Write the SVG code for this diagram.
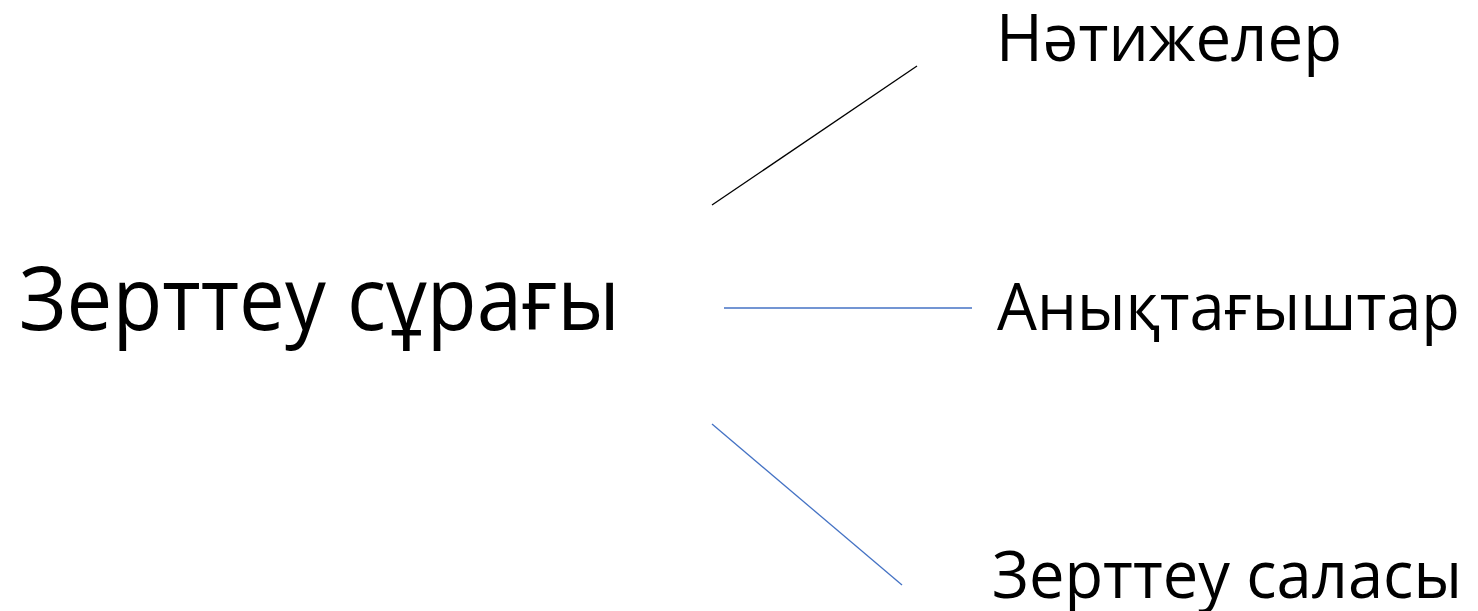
<svg xmlns="http://www.w3.org/2000/svg" width="1478" height="611" viewBox="0 0 1478 611">
<style>
text{font-family:"Open Sans","Noto Sans","DejaVu Sans",sans-serif;fill:#000}
.big{font-size:87px}
.sm{font-size:66px}
.blk{stroke:#000;stroke-width:1.3;fill:none}
.blu{stroke:#4472C4;stroke-width:1.3;fill:none}
</style>
<rect width="1478" height="611" fill="#fff"/>
<g id="connectors">
<line class="blk" x1="712" y1="205" x2="917" y2="66"/>
<line class="blu" x1="724" y1="308" x2="972" y2="308"/>
<line class="blu" x1="712" y1="424" x2="902" y2="585"/>
</g>
<g id="node-question"><text class="big" x="19" y="330" textLength="601" lengthAdjust="spacingAndGlyphs">Зерттеу сұрағы</text></g>
<g id="node-results"><text class="sm" x="996" y="61" textLength="346" lengthAdjust="spacingAndGlyphs">Нәтижелер</text></g>
<g id="node-determinants"><text class="sm" x="997" y="330" textLength="463" lengthAdjust="spacingAndGlyphs">Анықтағыштар</text></g>
<g id="node-field"><text class="sm" x="992" y="598" textLength="470" lengthAdjust="spacingAndGlyphs">Зерттеу саласы</text></g>
</svg>
